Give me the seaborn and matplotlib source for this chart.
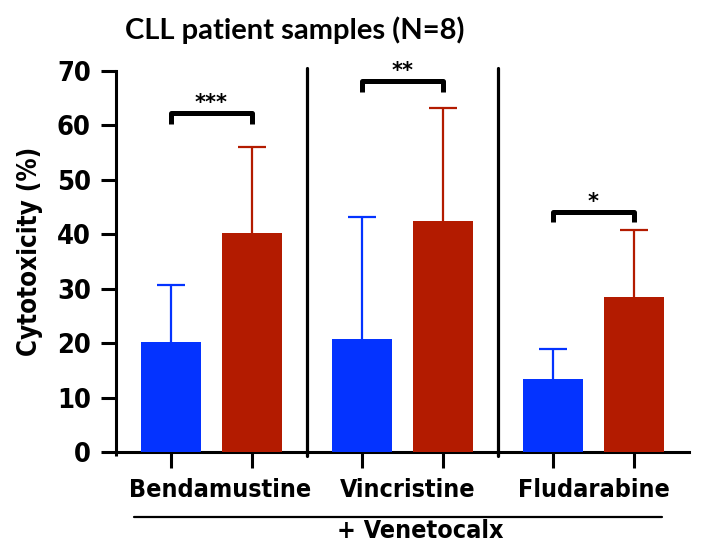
import numpy as np
import pandas as pd
import matplotlib
matplotlib.use("Agg")
import matplotlib.pyplot as plt
from matplotlib import font_manager as fm
import seaborn as sns

# ---- data ----
drugs = ["Bendamustine", "Vincristine", "Fludarabine"]
treatments = ["Drug alone", "+ Venetoclax"]
mean_alone = [20.2, 20.8, 13.5]
mean_combo = [40.3, 42.4, 28.5]
sd_alone = [10.5, 22.4, 5.5]
sd_combo = [15.8, 20.9, 12.4]
stars = ["***", "**", "*"]
bracket_y = [62.3, 68.2, 44.2]
yticks = [0, 10, 20, 30, 40, 50, 60, 70]
title = "CLL patient samples (N=8)"
ylabel = "Cytotoxicity (%)"
group_label = "+ Venetocalx"

blue = "#0433ff"
red = "#b31b00"

df = pd.DataFrame({
    "drug": drugs * 2,
    "treatment": [treatments[0]] * 3 + [treatments[1]] * 3,
    "value": mean_alone + mean_combo,
})

# choose a narrow bold sans if one exists, else Liberation Sans (Arial metrics)
main_family, main_stretch, scale = "Liberation Sans", "normal", 0.95
for fam, stretch in [("Liberation Sans Narrow", "normal"), ("DejaVu Sans", "condensed")]:
    try:
        p = fm.findfont(fm.FontProperties(family=fam, stretch=stretch, weight="bold"),
                        fallback_to_default=False)
        if ("Narrow" in p) or ("Condensed" in p):
            main_family, main_stretch, scale = fam, stretch, 1.0
            break
    except Exception:
        pass

sns.set_style("ticks")
plt.rcParams["font.family"] = [main_family, "DejaVu Sans"]
plt.rcParams["font.stretch"] = main_stretch
plt.rcParams["font.weight"] = "bold"
plt.rcParams["text.color"] = "black"
plt.rcParams["axes.labelcolor"] = "black"
plt.rcParams["xtick.color"] = "black"
plt.rcParams["ytick.color"] = "black"
plt.rcParams["axes.edgecolor"] = "black"

fig = plt.figure(figsize=(7.02, 5.48), dpi=100)
ax = fig.add_axes([0.1648, 0.1746, 0.9815 - 0.1648, 0.8704 - 0.1746])

sns.barplot(data=df, x="drug", y="value", hue="treatment", palette=[blue, red],
            width=0.851, gap=0.264, errorbar=None, legend=False, saturation=1,
            ax=ax)
for p in ax.patches:
    p.set_zorder(3)
    p.set_linewidth(0)

centers = []
for cont, means, sds, col in zip(ax.containers, [mean_alone, mean_combo],
                                 [sd_alone, sd_combo], [blue, red]):
    xs = [b.get_x() + b.get_width() / 2 for b in cont]
    centers.append(xs)
    eb = ax.errorbar(xs, means, yerr=[np.zeros(len(sds)), sds], fmt="none",
                     ecolor=col, elinewidth=1.6, capsize=10, capthick=1.6, zorder=2)
    caps = eb.lines[1]
    if len(caps) == 2:
        caps[0].set_visible(False)  # no lower cap

# significance brackets
for i in range(len(drugs)):
    x0, x1 = centers[0][i], centers[1][i]
    y = bracket_y[i]
    ax.plot([x0, x0, x1, x1], [y - 2.0, y, y, y - 2.0], color="black", lw=3.6,
            solid_joinstyle="round", solid_capstyle="butt", clip_on=False, zorder=4)
    ax.text((x0 + x1) / 2, y + 0.7, stars[i], ha="center", va="baseline",
            fontsize=15, fontweight="bold", family=["DejaVu Sans"], stretch="normal")

# dividers between groups
for b in [0.5, 1.5]:
    ax.plot([b, b], [-0.6, 70.6], color="black", lw=2.3, clip_on=False, zorder=4)

ax.set_xlim(-0.5, 2.5)
ax.set_ylim(0, 70)
ax.set_yticks(yticks)
ax.set_yticklabels([str(t) for t in yticks], fontsize=19.5 * scale, fontweight="bold")
allc = sorted(centers[0] + centers[1])
ax.set_xticks(allc)
ax.set_xticklabels([""] * len(allc))
ax.set_xticks([-0.5, 0.5, 1.5], minor=True)
ax.tick_params(axis="x", which="major", length=11.5, width=2.2, direction="out")
ax.tick_params(axis="x", which="minor", length=3, width=2.2, direction="out")
ax.tick_params(axis="y", length=11, width=2.2, pad=7)
for s in ["left", "bottom"]:
    ax.spines[s].set_linewidth(2.2)
sns.despine(ax=ax)
ax.set_xlabel("")
ax.set_ylabel("")
fig.text(30 / 702, 1 - 251 / 548, ylabel, rotation=90, ha="center", va="center",
         fontsize=18.5 * scale, fontweight="bold")

label_dx = [0.047, 0.026, 0.0]
for i, d in enumerate(drugs):
    ax.text(i + label_dx[i], -0.10, d, transform=ax.get_xaxis_transform(), ha="center",
            va="center", fontsize=18 * scale, fontweight="bold")

fig.add_artist(plt.Line2D([0.191, 0.943], [0.0566, 0.0566], color="black", lw=1.6))
fig.text(0.598, 0.031, group_label, ha="center", va="center", fontsize=18 * scale,
         fontweight="bold")
fig.text(0.42, 0.945, title, ha="center", va="center", fontsize=21,
         fontweight="bold", family=["Lato", "DejaVu Sans"], stretch="normal")

fig.savefig("out.png", dpi=100)
